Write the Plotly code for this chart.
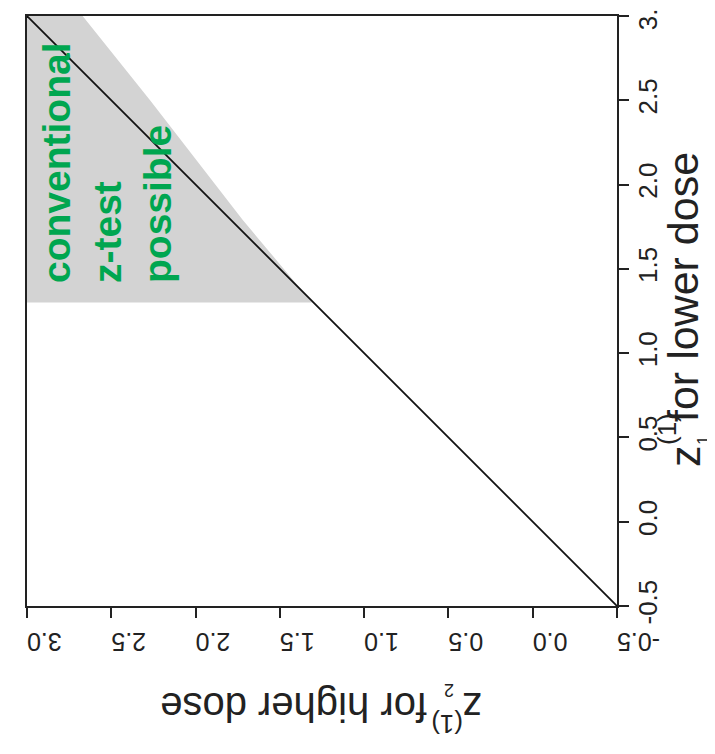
import plotly.graph_objects as go

# ---- data ----
tick_vals = [-0.5, 0.0, 0.5, 1.0, 1.5, 2.0, 2.5, 3.0]
tick_labels = ["-0.5", "0.0", "0.5", "1.0", "1.5", "2.0", "2.5", "3.0"]
axis_min, axis_max = -0.5, 3.0
# region where the conventional z-test is possible
z1_cut = 1.30                       # lower bound for z1 (lower dose)
z1_boundary = [1.30, 1.79, 2.50, 3.00]   # z1 values along the boundary
z2_boundary = [1.31, 1.72, 2.27, 2.67]   # minimal z2 for each z1
diag = [-0.5, 3.0]
region_text = ["conventional", "z-test", "possible"]

OFF = 8  # page body margin
W, H = 715, 754
L, T = 27 - OFF, 16 - OFF
pw, ph = 590, 590
R, B = W - L - pw, H - T - ph

def px(x):
    return (x - OFF - L) / pw

def py(y):
    return (T + ph - (y - OFF)) / ph

FONT = "Liberation Sans, Arial, Helvetica, sans-serif"
GRAY = "#d3d3d3"
GREEN = "#00a650"

fig = go.Figure()

# grey region (x axis = z2 reversed, y axis = z1)
poly_x = [axis_max, axis_max] + z2_boundary[::-1] + [axis_max]
poly_y = [z1_cut, axis_max] + z1_boundary[::-1] + [z1_cut]
fig.add_trace(go.Scatter(x=poly_x, y=poly_y, fill="toself", fillcolor=GRAY,
                         line=dict(width=0, color=GRAY), mode="lines",
                         hoverinfo="skip", showlegend=False))

# diagonal
fig.add_trace(go.Scatter(x=diag, y=diag, mode="lines",
                         line=dict(color="#111111", width=1.8),
                         hoverinfo="skip", showlegend=False))

axis_common = dict(
    tickvals=tick_vals, ticktext=tick_labels, ticks="outside", ticklen=10,
    tickwidth=1.5, tickcolor="#222222", showline=True, linewidth=1.5,
    linecolor="#222222", mirror=True, showgrid=False, zeroline=False,
    automargin=False, ticklabeloverflow="allow",
)

fig.update_layout(
    width=W, height=H,
    margin=dict(l=L, r=R, t=T, b=B, autoexpand=False),
    paper_bgcolor="white", plot_bgcolor="white",
    xaxis=dict(range=[axis_max, axis_min], tickangle=180, ticklabelstandoff=10,
               tickfont=dict(family=FONT, size=25, color="#222222"),
               **axis_common),
    yaxis=dict(range=[axis_min, axis_max], side="right", tickangle=-90,
               ticklabelstandoff=-3,
               tickfont=dict(family=FONT, size=26, color="#222222"),
               **axis_common),
    showlegend=False,
)

ann = []
def add(text, x, y, size, angle, color="#222222"):
    ann.append(dict(text=text, x=px(x), y=py(y), xref="paper", yref="paper",
                    xanchor="center", yanchor="middle", showarrow=False,
                    textangle=angle, font=dict(family=FONT, size=size, color=color)))

# bottom title (upside down)
add("for higher dose", 294, 707, 40, 180)
add("z", 471.5, 707, 40, 180)
add("2", 449.5, 690, 18, 180)
add("(1)", 446.5, 724, 26, 180)

# right title (rotated)
add("for lower dose", 683, 287, 43, -90)
add("z", 685, 456, 43, -90)
add("(1)", 667, 429, 26, -90)
add("1", 703, 441, 17, -90)

# green label
ann.append(dict(text="<b>" + "<br>".join(region_text) + "</b>",
                x=px(107), y=py(163), xref="paper", yref="paper",
                xanchor="center", yanchor="middle", align="left",
                showarrow=False, textangle=-90,
                font=dict(family=FONT, size=39, color=GREEN)))

fig.update_layout(annotations=ann)
fig.write_html("out.html")
